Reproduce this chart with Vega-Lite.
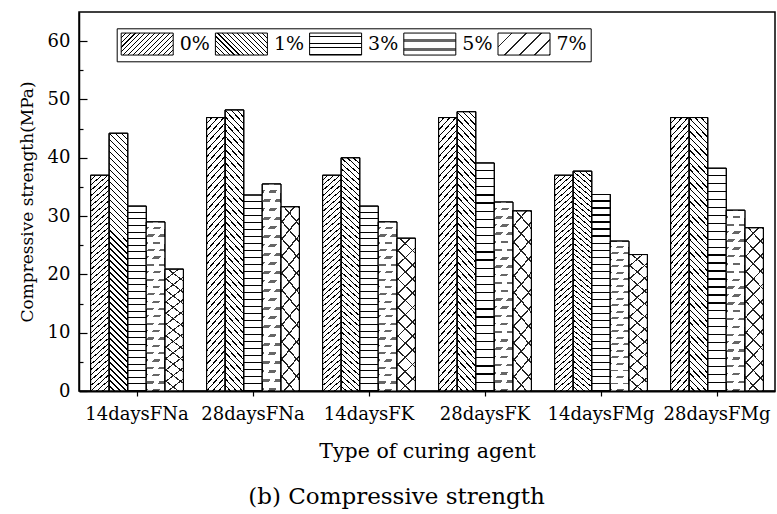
{
  "$schema": "https://vega.github.io/schema/vega-lite/v6.json",
  "width": 696,
  "height": 379,
  "autosize": {"type": "none"},
  "padding": {"left": 79, "top": 12, "right": 2, "bottom": 123},
  "background": "white",
  "params": [
    {"name": "sA", "expr": "[{offset:0,color:'#fff'},{offset:0.0156,color:'#fff'},{offset:0.0156,color:'#000'},{offset:0.02,color:'#000'},{offset:0.02,color:'#fff'},{offset:0.0356,color:'#fff'},{offset:0.0356,color:'#000'},{offset:0.04,color:'#000'},{offset:0.04,color:'#fff'},{offset:0.0556,color:'#fff'},{offset:0.0556,color:'#000'},{offset:0.06,color:'#000'},{offset:0.06,color:'#fff'},{offset:0.0756,color:'#fff'},{offset:0.0756,color:'#000'},{offset:0.08,color:'#000'},{offset:0.08,color:'#fff'},{offset:0.0956,color:'#fff'},{offset:0.0956,color:'#000'},{offset:0.1,color:'#000'},{offset:0.1,color:'#fff'},{offset:0.1156,color:'#fff'},{offset:0.1156,color:'#000'},{offset:0.12,color:'#000'},{offset:0.12,color:'#fff'},{offset:0.1356,color:'#fff'},{offset:0.1356,color:'#000'},{offset:0.14,color:'#000'},{offset:0.14,color:'#fff'},{offset:0.1556,color:'#fff'},{offset:0.1556,color:'#000'},{offset:0.16,color:'#000'},{offset:0.16,color:'#fff'},{offset:0.1756,color:'#fff'},{offset:0.1756,color:'#000'},{offset:0.18,color:'#000'},{offset:0.18,color:'#fff'},{offset:0.1956,color:'#fff'},{offset:0.1956,color:'#000'},{offset:0.2,color:'#000'},{offset:0.2,color:'#fff'},{offset:0.2156,color:'#fff'},{offset:0.2156,color:'#000'},{offset:0.22,color:'#000'},{offset:0.22,color:'#fff'},{offset:0.2356,color:'#fff'},{offset:0.2356,color:'#000'},{offset:0.24,color:'#000'},{offset:0.24,color:'#fff'},{offset:0.2556,color:'#fff'},{offset:0.2556,color:'#000'},{offset:0.26,color:'#000'},{offset:0.26,color:'#fff'},{offset:0.2756,color:'#fff'},{offset:0.2756,color:'#000'},{offset:0.28,color:'#000'},{offset:0.28,color:'#fff'},{offset:0.2956,color:'#fff'},{offset:0.2956,color:'#000'},{offset:0.3,color:'#000'},{offset:0.3,color:'#fff'},{offset:0.3156,color:'#fff'},{offset:0.3156,color:'#000'},{offset:0.32,color:'#000'},{offset:0.32,color:'#fff'},{offset:0.3356,color:'#fff'},{offset:0.3356,color:'#000'},{offset:0.34,color:'#000'},{offset:0.34,color:'#fff'},{offset:0.3556,color:'#fff'},{offset:0.3556,color:'#000'},{offset:0.36,color:'#000'},{offset:0.36,color:'#fff'},{offset:0.3756,color:'#fff'},{offset:0.3756,color:'#000'},{offset:0.38,color:'#000'},{offset:0.38,color:'#fff'},{offset:0.3956,color:'#fff'},{offset:0.3956,color:'#000'},{offset:0.4,color:'#000'},{offset:0.4,color:'#fff'},{offset:0.4156,color:'#fff'},{offset:0.4156,color:'#000'},{offset:0.42,color:'#000'},{offset:0.42,color:'#fff'},{offset:0.4356,color:'#fff'},{offset:0.4356,color:'#000'},{offset:0.44,color:'#000'},{offset:0.44,color:'#fff'},{offset:0.4556,color:'#fff'},{offset:0.4556,color:'#000'},{offset:0.46,color:'#000'},{offset:0.46,color:'#fff'},{offset:0.4756,color:'#fff'},{offset:0.4756,color:'#000'},{offset:0.48,color:'#000'},{offset:0.48,color:'#fff'},{offset:0.4956,color:'#fff'},{offset:0.4956,color:'#000'},{offset:0.5,color:'#000'},{offset:0.5,color:'#fff'},{offset:0.5156,color:'#fff'},{offset:0.5156,color:'#000'},{offset:0.52,color:'#000'},{offset:0.52,color:'#fff'},{offset:0.5356,color:'#fff'},{offset:0.5356,color:'#000'},{offset:0.54,color:'#000'},{offset:0.54,color:'#fff'},{offset:0.5556,color:'#fff'},{offset:0.5556,color:'#000'},{offset:0.56,color:'#000'},{offset:0.56,color:'#fff'},{offset:0.5756,color:'#fff'},{offset:0.5756,color:'#000'},{offset:0.58,color:'#000'},{offset:0.58,color:'#fff'},{offset:0.5956,color:'#fff'},{offset:0.5956,color:'#000'},{offset:0.6,color:'#000'},{offset:0.6,color:'#fff'},{offset:0.6156,color:'#fff'},{offset:0.6156,color:'#000'},{offset:0.62,color:'#000'},{offset:0.62,color:'#fff'},{offset:0.6356,color:'#fff'},{offset:0.6356,color:'#000'},{offset:0.64,color:'#000'},{offset:0.64,color:'#fff'},{offset:0.6556,color:'#fff'},{offset:0.6556,color:'#000'},{offset:0.66,color:'#000'},{offset:0.66,color:'#fff'},{offset:0.6756,color:'#fff'},{offset:0.6756,color:'#000'},{offset:0.68,color:'#000'},{offset:0.68,color:'#fff'},{offset:0.6956,color:'#fff'},{offset:0.6956,color:'#000'},{offset:0.7,color:'#000'},{offset:0.7,color:'#fff'},{offset:0.7156,color:'#fff'},{offset:0.7156,color:'#000'},{offset:0.72,color:'#000'},{offset:0.72,color:'#fff'},{offset:0.7356,color:'#fff'},{offset:0.7356,color:'#000'},{offset:0.74,color:'#000'},{offset:0.74,color:'#fff'},{offset:0.7556,color:'#fff'},{offset:0.7556,color:'#000'},{offset:0.76,color:'#000'},{offset:0.76,color:'#fff'},{offset:0.7756,color:'#fff'},{offset:0.7756,color:'#000'},{offset:0.78,color:'#000'},{offset:0.78,color:'#fff'},{offset:0.7956,color:'#fff'},{offset:0.7956,color:'#000'},{offset:0.8,color:'#000'},{offset:0.8,color:'#fff'},{offset:0.8156,color:'#fff'},{offset:0.8156,color:'#000'},{offset:0.82,color:'#000'},{offset:0.82,color:'#fff'},{offset:0.8356,color:'#fff'},{offset:0.8356,color:'#000'},{offset:0.84,color:'#000'},{offset:0.84,color:'#fff'},{offset:0.8556,color:'#fff'},{offset:0.8556,color:'#000'},{offset:0.86,color:'#000'},{offset:0.86,color:'#fff'},{offset:0.8756,color:'#fff'},{offset:0.8756,color:'#000'},{offset:0.88,color:'#000'},{offset:0.88,color:'#fff'},{offset:0.8956,color:'#fff'},{offset:0.8956,color:'#000'},{offset:0.9,color:'#000'},{offset:0.9,color:'#fff'},{offset:0.9156,color:'#fff'},{offset:0.9156,color:'#000'},{offset:0.92,color:'#000'},{offset:0.92,color:'#fff'},{offset:0.9356,color:'#fff'},{offset:0.9356,color:'#000'},{offset:0.94,color:'#000'},{offset:0.94,color:'#fff'},{offset:0.9556,color:'#fff'},{offset:0.9556,color:'#000'},{offset:0.96,color:'#000'},{offset:0.96,color:'#fff'},{offset:0.9756,color:'#fff'},{offset:0.9756,color:'#000'},{offset:0.98,color:'#000'},{offset:0.98,color:'#fff'},{offset:0.9956,color:'#fff'},{offset:0.9956,color:'#000'},{offset:1,color:'#000'}]"},
    {"name": "sB", "expr": "[{offset:0,color:'#fff'},{offset:0.0233,color:'#fff'},{offset:0.0233,color:'#666'},{offset:0.0333,color:'#666'},{offset:0.0333,color:'#fff'},{offset:0.0567,color:'#fff'},{offset:0.0567,color:'#666'},{offset:0.0667,color:'#666'},{offset:0.0667,color:'#fff'},{offset:0.09,color:'#fff'},{offset:0.09,color:'#666'},{offset:0.1,color:'#666'},{offset:0.1,color:'#fff'},{offset:0.1233,color:'#fff'},{offset:0.1233,color:'#666'},{offset:0.1333,color:'#666'},{offset:0.1333,color:'#fff'},{offset:0.1567,color:'#fff'},{offset:0.1567,color:'#666'},{offset:0.1667,color:'#666'},{offset:0.1667,color:'#fff'},{offset:0.19,color:'#fff'},{offset:0.19,color:'#666'},{offset:0.2,color:'#666'},{offset:0.2,color:'#fff'},{offset:0.2233,color:'#fff'},{offset:0.2233,color:'#666'},{offset:0.2333,color:'#666'},{offset:0.2333,color:'#fff'},{offset:0.2567,color:'#fff'},{offset:0.2567,color:'#666'},{offset:0.2667,color:'#666'},{offset:0.2667,color:'#fff'},{offset:0.29,color:'#fff'},{offset:0.29,color:'#666'},{offset:0.3,color:'#666'},{offset:0.3,color:'#fff'},{offset:0.3233,color:'#fff'},{offset:0.3233,color:'#666'},{offset:0.3333,color:'#666'},{offset:0.3333,color:'#fff'},{offset:0.3567,color:'#fff'},{offset:0.3567,color:'#666'},{offset:0.3667,color:'#666'},{offset:0.3667,color:'#fff'},{offset:0.39,color:'#fff'},{offset:0.39,color:'#666'},{offset:0.4,color:'#666'},{offset:0.4,color:'#fff'},{offset:0.4233,color:'#fff'},{offset:0.4233,color:'#666'},{offset:0.4333,color:'#666'},{offset:0.4333,color:'#fff'},{offset:0.4567,color:'#fff'},{offset:0.4567,color:'#666'},{offset:0.4667,color:'#666'},{offset:0.4667,color:'#fff'},{offset:0.49,color:'#fff'},{offset:0.49,color:'#666'},{offset:0.5,color:'#666'},{offset:0.5,color:'#fff'},{offset:0.5233,color:'#fff'},{offset:0.5233,color:'#666'},{offset:0.5333,color:'#666'},{offset:0.5333,color:'#fff'},{offset:0.5567,color:'#fff'},{offset:0.5567,color:'#666'},{offset:0.5667,color:'#666'},{offset:0.5667,color:'#fff'},{offset:0.59,color:'#fff'},{offset:0.59,color:'#666'},{offset:0.6,color:'#666'},{offset:0.6,color:'#fff'},{offset:0.6233,color:'#fff'},{offset:0.6233,color:'#666'},{offset:0.6333,color:'#666'},{offset:0.6333,color:'#fff'},{offset:0.6567,color:'#fff'},{offset:0.6567,color:'#666'},{offset:0.6667,color:'#666'},{offset:0.6667,color:'#fff'},{offset:0.69,color:'#fff'},{offset:0.69,color:'#666'},{offset:0.7,color:'#666'},{offset:0.7,color:'#fff'},{offset:0.7233,color:'#fff'},{offset:0.7233,color:'#666'},{offset:0.7333,color:'#666'},{offset:0.7333,color:'#fff'},{offset:0.7567,color:'#fff'},{offset:0.7567,color:'#666'},{offset:0.7667,color:'#666'},{offset:0.7667,color:'#fff'},{offset:0.79,color:'#fff'},{offset:0.79,color:'#666'},{offset:0.8,color:'#666'},{offset:0.8,color:'#fff'},{offset:0.8233,color:'#fff'},{offset:0.8233,color:'#666'},{offset:0.8333,color:'#666'},{offset:0.8333,color:'#fff'},{offset:0.8567,color:'#fff'},{offset:0.8567,color:'#666'},{offset:0.8667,color:'#666'},{offset:0.8667,color:'#fff'},{offset:0.89,color:'#fff'},{offset:0.89,color:'#666'},{offset:0.9,color:'#666'},{offset:0.9,color:'#fff'},{offset:0.9233,color:'#fff'},{offset:0.9233,color:'#666'},{offset:0.9333,color:'#666'},{offset:0.9333,color:'#fff'},{offset:0.9567,color:'#fff'},{offset:0.9567,color:'#666'},{offset:0.9667,color:'#666'},{offset:0.9667,color:'#fff'},{offset:0.99,color:'#fff'},{offset:0.99,color:'#666'},{offset:1,color:'#666'}]"},
    {"name": "sF", "expr": "[{offset:0,color:'#fff'},{offset:0.028,color:'#fff'},{offset:0.028,color:'#000'},{offset:0.0333,color:'#000'},{offset:0.0333,color:'#fff'},{offset:0.0613,color:'#fff'},{offset:0.0613,color:'#000'},{offset:0.0667,color:'#000'},{offset:0.0667,color:'#fff'},{offset:0.0947,color:'#fff'},{offset:0.0947,color:'#000'},{offset:0.1,color:'#000'},{offset:0.1,color:'#fff'},{offset:0.128,color:'#fff'},{offset:0.128,color:'#000'},{offset:0.1333,color:'#000'},{offset:0.1333,color:'#fff'},{offset:0.1613,color:'#fff'},{offset:0.1613,color:'#000'},{offset:0.1667,color:'#000'},{offset:0.1667,color:'#fff'},{offset:0.1947,color:'#fff'},{offset:0.1947,color:'#000'},{offset:0.2,color:'#000'},{offset:0.2,color:'#fff'},{offset:0.228,color:'#fff'},{offset:0.228,color:'#000'},{offset:0.2333,color:'#000'},{offset:0.2333,color:'#fff'},{offset:0.2613,color:'#fff'},{offset:0.2613,color:'#000'},{offset:0.2667,color:'#000'},{offset:0.2667,color:'#fff'},{offset:0.2947,color:'#fff'},{offset:0.2947,color:'#000'},{offset:0.3,color:'#000'},{offset:0.3,color:'#fff'},{offset:0.328,color:'#fff'},{offset:0.328,color:'#000'},{offset:0.3333,color:'#000'},{offset:0.3333,color:'#fff'},{offset:0.3613,color:'#fff'},{offset:0.3613,color:'#000'},{offset:0.3667,color:'#000'},{offset:0.3667,color:'#fff'},{offset:0.3947,color:'#fff'},{offset:0.3947,color:'#000'},{offset:0.4,color:'#000'},{offset:0.4,color:'#fff'},{offset:0.428,color:'#fff'},{offset:0.428,color:'#000'},{offset:0.4333,color:'#000'},{offset:0.4333,color:'#fff'},{offset:0.4613,color:'#fff'},{offset:0.4613,color:'#000'},{offset:0.4667,color:'#000'},{offset:0.4667,color:'#fff'},{offset:0.4947,color:'#fff'},{offset:0.4947,color:'#000'},{offset:0.5,color:'#000'},{offset:0.5,color:'#fff'},{offset:0.528,color:'#fff'},{offset:0.528,color:'#000'},{offset:0.5333,color:'#000'},{offset:0.5333,color:'#fff'},{offset:0.5613,color:'#fff'},{offset:0.5613,color:'#000'},{offset:0.5667,color:'#000'},{offset:0.5667,color:'#fff'},{offset:0.5947,color:'#fff'},{offset:0.5947,color:'#000'},{offset:0.6,color:'#000'},{offset:0.6,color:'#fff'},{offset:0.628,color:'#fff'},{offset:0.628,color:'#000'},{offset:0.6333,color:'#000'},{offset:0.6333,color:'#fff'},{offset:0.6613,color:'#fff'},{offset:0.6613,color:'#000'},{offset:0.6667,color:'#000'},{offset:0.6667,color:'#fff'},{offset:0.6947,color:'#fff'},{offset:0.6947,color:'#000'},{offset:0.7,color:'#000'},{offset:0.7,color:'#fff'},{offset:0.728,color:'#fff'},{offset:0.728,color:'#000'},{offset:0.7333,color:'#000'},{offset:0.7333,color:'#fff'},{offset:0.7613,color:'#fff'},{offset:0.7613,color:'#000'},{offset:0.7667,color:'#000'},{offset:0.7667,color:'#fff'},{offset:0.7947,color:'#fff'},{offset:0.7947,color:'#000'},{offset:0.8,color:'#000'},{offset:0.8,color:'#fff'},{offset:0.828,color:'#fff'},{offset:0.828,color:'#000'},{offset:0.8333,color:'#000'},{offset:0.8333,color:'#fff'},{offset:0.8613,color:'#fff'},{offset:0.8613,color:'#000'},{offset:0.8667,color:'#000'},{offset:0.8667,color:'#fff'},{offset:0.8947,color:'#fff'},{offset:0.8947,color:'#000'},{offset:0.9,color:'#000'},{offset:0.9,color:'#fff'},{offset:0.928,color:'#fff'},{offset:0.928,color:'#000'},{offset:0.9333,color:'#000'},{offset:0.9333,color:'#fff'},{offset:0.9613,color:'#fff'},{offset:0.9613,color:'#000'},{offset:0.9667,color:'#000'},{offset:0.9667,color:'#fff'},{offset:0.9947,color:'#fff'},{offset:0.9947,color:'#000'},{offset:1,color:'#000'}]"},
    {"name": "sC", "expr": "[{offset:0,color:'#fff'},{offset:0.055,color:'#fff'},{offset:0.055,color:'#222'},{offset:0.0625,color:'#222'},{offset:0.0625,color:'#fff'},{offset:0.1175,color:'#fff'},{offset:0.1175,color:'#222'},{offset:0.125,color:'#222'},{offset:0.125,color:'#fff'},{offset:0.18,color:'#fff'},{offset:0.18,color:'#222'},{offset:0.1875,color:'#222'},{offset:0.1875,color:'#fff'},{offset:0.2425,color:'#fff'},{offset:0.2425,color:'#222'},{offset:0.25,color:'#222'},{offset:0.25,color:'#fff'},{offset:0.305,color:'#fff'},{offset:0.305,color:'#222'},{offset:0.3125,color:'#222'},{offset:0.3125,color:'#fff'},{offset:0.3675,color:'#fff'},{offset:0.3675,color:'#222'},{offset:0.375,color:'#222'},{offset:0.375,color:'#fff'},{offset:0.43,color:'#fff'},{offset:0.43,color:'#222'},{offset:0.4375,color:'#222'},{offset:0.4375,color:'#fff'},{offset:0.4925,color:'#fff'},{offset:0.4925,color:'#222'},{offset:0.5,color:'#222'},{offset:0.5,color:'#fff'},{offset:0.555,color:'#fff'},{offset:0.555,color:'#222'},{offset:0.5625,color:'#222'},{offset:0.5625,color:'#fff'},{offset:0.6175,color:'#fff'},{offset:0.6175,color:'#222'},{offset:0.625,color:'#222'},{offset:0.625,color:'#fff'},{offset:0.68,color:'#fff'},{offset:0.68,color:'#222'},{offset:0.6875,color:'#222'},{offset:0.6875,color:'#fff'},{offset:0.7425,color:'#fff'},{offset:0.7425,color:'#222'},{offset:0.75,color:'#222'},{offset:0.75,color:'#fff'},{offset:0.805,color:'#fff'},{offset:0.805,color:'#222'},{offset:0.8125,color:'#222'},{offset:0.8125,color:'#fff'},{offset:0.8675,color:'#fff'},{offset:0.8675,color:'#222'},{offset:0.875,color:'#222'},{offset:0.875,color:'#fff'},{offset:0.93,color:'#fff'},{offset:0.93,color:'#222'},{offset:0.9375,color:'#222'},{offset:0.9375,color:'#fff'},{offset:0.9925,color:'#fff'},{offset:0.9925,color:'#222'},{offset:1,color:'#222'}]"},
    {"name": "sD", "expr": "[{offset:0,color:'rgba(0,0,0,0)'},{offset:0.055,color:'rgba(0,0,0,0)'},{offset:0.055,color:'#222'},{offset:0.0625,color:'#222'},{offset:0.0625,color:'rgba(0,0,0,0)'},{offset:0.1175,color:'rgba(0,0,0,0)'},{offset:0.1175,color:'#222'},{offset:0.125,color:'#222'},{offset:0.125,color:'rgba(0,0,0,0)'},{offset:0.18,color:'rgba(0,0,0,0)'},{offset:0.18,color:'#222'},{offset:0.1875,color:'#222'},{offset:0.1875,color:'rgba(0,0,0,0)'},{offset:0.2425,color:'rgba(0,0,0,0)'},{offset:0.2425,color:'#222'},{offset:0.25,color:'#222'},{offset:0.25,color:'rgba(0,0,0,0)'},{offset:0.305,color:'rgba(0,0,0,0)'},{offset:0.305,color:'#222'},{offset:0.3125,color:'#222'},{offset:0.3125,color:'rgba(0,0,0,0)'},{offset:0.3675,color:'rgba(0,0,0,0)'},{offset:0.3675,color:'#222'},{offset:0.375,color:'#222'},{offset:0.375,color:'rgba(0,0,0,0)'},{offset:0.43,color:'rgba(0,0,0,0)'},{offset:0.43,color:'#222'},{offset:0.4375,color:'#222'},{offset:0.4375,color:'rgba(0,0,0,0)'},{offset:0.4925,color:'rgba(0,0,0,0)'},{offset:0.4925,color:'#222'},{offset:0.5,color:'#222'},{offset:0.5,color:'rgba(0,0,0,0)'},{offset:0.555,color:'rgba(0,0,0,0)'},{offset:0.555,color:'#222'},{offset:0.5625,color:'#222'},{offset:0.5625,color:'rgba(0,0,0,0)'},{offset:0.6175,color:'rgba(0,0,0,0)'},{offset:0.6175,color:'#222'},{offset:0.625,color:'#222'},{offset:0.625,color:'rgba(0,0,0,0)'},{offset:0.68,color:'rgba(0,0,0,0)'},{offset:0.68,color:'#222'},{offset:0.6875,color:'#222'},{offset:0.6875,color:'rgba(0,0,0,0)'},{offset:0.7425,color:'rgba(0,0,0,0)'},{offset:0.7425,color:'#222'},{offset:0.75,color:'#222'},{offset:0.75,color:'rgba(0,0,0,0)'},{offset:0.805,color:'rgba(0,0,0,0)'},{offset:0.805,color:'#222'},{offset:0.8125,color:'#222'},{offset:0.8125,color:'rgba(0,0,0,0)'},{offset:0.8675,color:'rgba(0,0,0,0)'},{offset:0.8675,color:'#222'},{offset:0.875,color:'#222'},{offset:0.875,color:'rgba(0,0,0,0)'},{offset:0.93,color:'rgba(0,0,0,0)'},{offset:0.93,color:'#222'},{offset:0.9375,color:'#222'},{offset:0.9375,color:'rgba(0,0,0,0)'},{offset:0.9925,color:'rgba(0,0,0,0)'},{offset:0.9925,color:'#222'},{offset:1,color:'#222'}]"},
    {"name": "sE", "expr": "[{offset:0,color:'rgba(0,0,0,0)'},{offset:0.0363,color:'rgba(0,0,0,0)'},{offset:0.0363,color:'#fff'},{offset:0.0625,color:'#fff'},{offset:0.0625,color:'rgba(0,0,0,0)'},{offset:0.0988,color:'rgba(0,0,0,0)'},{offset:0.0988,color:'#fff'},{offset:0.125,color:'#fff'},{offset:0.125,color:'rgba(0,0,0,0)'},{offset:0.1613,color:'rgba(0,0,0,0)'},{offset:0.1613,color:'#fff'},{offset:0.1875,color:'#fff'},{offset:0.1875,color:'rgba(0,0,0,0)'},{offset:0.2238,color:'rgba(0,0,0,0)'},{offset:0.2238,color:'#fff'},{offset:0.25,color:'#fff'},{offset:0.25,color:'rgba(0,0,0,0)'},{offset:0.2863,color:'rgba(0,0,0,0)'},{offset:0.2863,color:'#fff'},{offset:0.3125,color:'#fff'},{offset:0.3125,color:'rgba(0,0,0,0)'},{offset:0.3488,color:'rgba(0,0,0,0)'},{offset:0.3488,color:'#fff'},{offset:0.375,color:'#fff'},{offset:0.375,color:'rgba(0,0,0,0)'},{offset:0.4113,color:'rgba(0,0,0,0)'},{offset:0.4113,color:'#fff'},{offset:0.4375,color:'#fff'},{offset:0.4375,color:'rgba(0,0,0,0)'},{offset:0.4738,color:'rgba(0,0,0,0)'},{offset:0.4738,color:'#fff'},{offset:0.5,color:'#fff'},{offset:0.5,color:'rgba(0,0,0,0)'},{offset:0.5363,color:'rgba(0,0,0,0)'},{offset:0.5363,color:'#fff'},{offset:0.5625,color:'#fff'},{offset:0.5625,color:'rgba(0,0,0,0)'},{offset:0.5988,color:'rgba(0,0,0,0)'},{offset:0.5988,color:'#fff'},{offset:0.625,color:'#fff'},{offset:0.625,color:'rgba(0,0,0,0)'},{offset:0.6613,color:'rgba(0,0,0,0)'},{offset:0.6613,color:'#fff'},{offset:0.6875,color:'#fff'},{offset:0.6875,color:'rgba(0,0,0,0)'},{offset:0.7238,color:'rgba(0,0,0,0)'},{offset:0.7238,color:'#fff'},{offset:0.75,color:'#fff'},{offset:0.75,color:'rgba(0,0,0,0)'},{offset:0.7863,color:'rgba(0,0,0,0)'},{offset:0.7863,color:'#fff'},{offset:0.8125,color:'#fff'},{offset:0.8125,color:'rgba(0,0,0,0)'},{offset:0.8488,color:'rgba(0,0,0,0)'},{offset:0.8488,color:'#fff'},{offset:0.875,color:'#fff'},{offset:0.875,color:'rgba(0,0,0,0)'},{offset:0.9113,color:'rgba(0,0,0,0)'},{offset:0.9113,color:'#fff'},{offset:0.9375,color:'#fff'},{offset:0.9375,color:'rgba(0,0,0,0)'},{offset:0.9738,color:'rgba(0,0,0,0)'},{offset:0.9738,color:'#fff'},{offset:1,color:'#fff'}]"}
  ],
  "data": {
    "values": [
      {"agent": "14daysFNa", "p": "0%", "v": 37.0},
      {"agent": "14daysFNa", "p": "1%", "v": 44.2},
      {"agent": "14daysFNa", "p": "3%", "v": 31.7},
      {"agent": "14daysFNa", "p": "5%", "v": 29.0},
      {"agent": "14daysFNa", "p": "7%", "v": 20.9},
      {"agent": "28daysFNa", "p": "0%", "v": 46.9},
      {"agent": "28daysFNa", "p": "1%", "v": 48.2},
      {"agent": "28daysFNa", "p": "3%", "v": 33.6},
      {"agent": "28daysFNa", "p": "5%", "v": 35.5},
      {"agent": "28daysFNa", "p": "7%", "v": 31.6},
      {"agent": "14daysFK", "p": "0%", "v": 37.0},
      {"agent": "14daysFK", "p": "1%", "v": 40.0},
      {"agent": "14daysFK", "p": "3%", "v": 31.7},
      {"agent": "14daysFK", "p": "5%", "v": 29.0},
      {"agent": "14daysFK", "p": "7%", "v": 26.2},
      {"agent": "28daysFK", "p": "0%", "v": 46.9},
      {"agent": "28daysFK", "p": "1%", "v": 47.9},
      {"agent": "28daysFK", "p": "3%", "v": 39.1},
      {"agent": "28daysFK", "p": "5%", "v": 32.4},
      {"agent": "28daysFK", "p": "7%", "v": 30.9},
      {"agent": "14daysFMg", "p": "0%", "v": 37.0},
      {"agent": "14daysFMg", "p": "1%", "v": 37.7},
      {"agent": "14daysFMg", "p": "3%", "v": 33.7},
      {"agent": "14daysFMg", "p": "5%", "v": 25.7},
      {"agent": "14daysFMg", "p": "7%", "v": 23.4},
      {"agent": "28daysFMg", "p": "0%", "v": 46.9},
      {"agent": "28daysFMg", "p": "1%", "v": 46.9},
      {"agent": "28daysFMg", "p": "3%", "v": 38.2},
      {"agent": "28daysFMg", "p": "5%", "v": 31.0},
      {"agent": "28daysFMg", "p": "7%", "v": 28.0}
    ]
  },
  "config": {
    "font": "DejaVu Serif",
    "view": {"stroke": "black", "strokeWidth": 1.5},
    "axis": {"grid": false, "domainColor": "black", "tickColor": "black", "labelColor": "black", "titleColor": "black", "labelFont": "DejaVu Serif", "titleFont": "DejaVu Serif", "titleFontWeight": "normal"},
    "legend": {"labelFont": "DejaVu Serif"}
  },
  "title": {"text": "(b) Compressive strength", "orient": "bottom", "anchor": "middle", "frame": "bounds", "fontSize": 23, "fontWeight": "normal", "font": "DejaVu Serif", "color": "black", "offset": 24},
  "encoding": {
    "x": {
      "field": "agent", "type": "nominal", "sort": null,
      "scale": {"paddingInner": 0.2, "paddingOuter": 0.1},
      "title": "Type of curing agent",
      "axis": {"labelAngle": 0, "labelFontSize": 18, "labelPadding": 9, "tickSize": 5, "tickWidth": 1.2, "domainWidth": 2, "titleFontSize": 20.5, "titlePadding": 18, "labelOverlap": false, "labelFlush": false, "labelBound": false, "labelLimit": 0}
    },
    "xOffset": {"field": "p", "type": "nominal", "scale": {"paddingInner": 0, "paddingOuter": 0}},
    "y": {
      "field": "v", "type": "quantitative",
      "scale": {"domain": [0, 65], "nice": false},
      "title": "Compressive strength(MPa)",
      "axis": {"values": [0, 5, 10, 15, 20, 25, 30, 35, 40, 45, 50, 55, 60], "labelExpr": "datum.value % 10 === 0 ? datum.label : ''", "tickSize": {"condition": {"test": "datum.value % 10 === 0", "value": -8}, "value": -4}, "tickWidth": 1.2, "labelFontSize": 18, "labelPadding": 17, "domainWidth": 1.5, "titleFontSize": 17, "titlePadding": 11}
    }
  },
  "resolve": {"scale": {"fill": "independent"}, "legend": {"fill": "independent"}},
  "layer": [
    {
      "mark": {"type": "bar", "stroke": "black", "strokeWidth": 1},
      "encoding": {
        "fill": {
          "field": "p", "type": "nominal",
          "scale": {"range": [
            {"expr": "{gradient:'linear',x1:0,y1:0,x2:4.0235,y2:1.7023,stops:sA}"},
            {"expr": "{gradient:'linear',x1:0,y1:1,x2:4.0235,y2:-0.7023,stops:sA}"},
            {"expr": "{gradient:'linear',x1:0,y1:0,x2:0,y2:5,stops:sF}"},
            {"expr": "{gradient:'linear',x1:0,y1:0,x2:0,y2:12,stops:sB}"},
            {"expr": "{gradient:'linear',x1:0,y1:0,x2:3.8624,y2:1.6342,stops:sC}"}
          ]},
          "legend": {"orient": "none", "legendX": 37.7, "legendY": 16.3, "direction": "horizontal", "columns": 5, "title": null, "symbolType": "M-1,-1H3.7273V1H-1Z", "symbolSize": 484, "symbolStrokeColor": "black", "symbolStrokeWidth": 1, "labelFont": "DejaVu Serif", "labelFontSize": 19, "labelColor": "black", "labelOffset": 36, "columnPadding": 2.2, "padding": 4, "strokeColor": "black", "fillColor": "white", "labelLimit": 0}
        }
      }
    },
    {
      "mark": {"type": "bar", "stroke": "black", "strokeWidth": 1},
      "encoding": {
        "fill": {
          "field": "p", "type": "nominal",
          "scale": {"range": [
            {"expr": "{gradient:'linear',x1:0,y1:0,x2:0.09212,y2:1.2155,stops:sA}"},
            {"expr": "{gradient:'linear',x1:0,y1:1,x2:0.08352,y2:-0.1592,stops:sA}"},
            {"expr": "{gradient:'linear',x1:0,y1:0,x2:0,y2:1.0714,stops:sF}"},
            {"expr": "{gradient:'linear',x1:0,y1:0,x2:0,y2:1.3043,stops:sB}"},
            {"expr": "{gradient:'linear',x1:0,y1:0,x2:0.17452,y2:1.4709,stops:sC}"}
          ]},
          "legend": null
        }
      }
    },
    {
      "mark": {"type": "bar", "stroke": "black", "strokeWidth": 1},
      "encoding": {
        "fill": {
          "field": "p", "type": "nominal",
          "scale": {"range": [
            "transparent",
            "transparent",
            "transparent",
            {"expr": "{gradient:'linear',x1:0,y1:0,x2:0.1827,y2:1.361,stops:sE}"},
            {"expr": "{gradient:'linear',x1:0,y1:1,x2:0.17452,y2:-0.4709,stops:sD}"}
          ]},
          "legend": null
        }
      }
    }
  ]
}
